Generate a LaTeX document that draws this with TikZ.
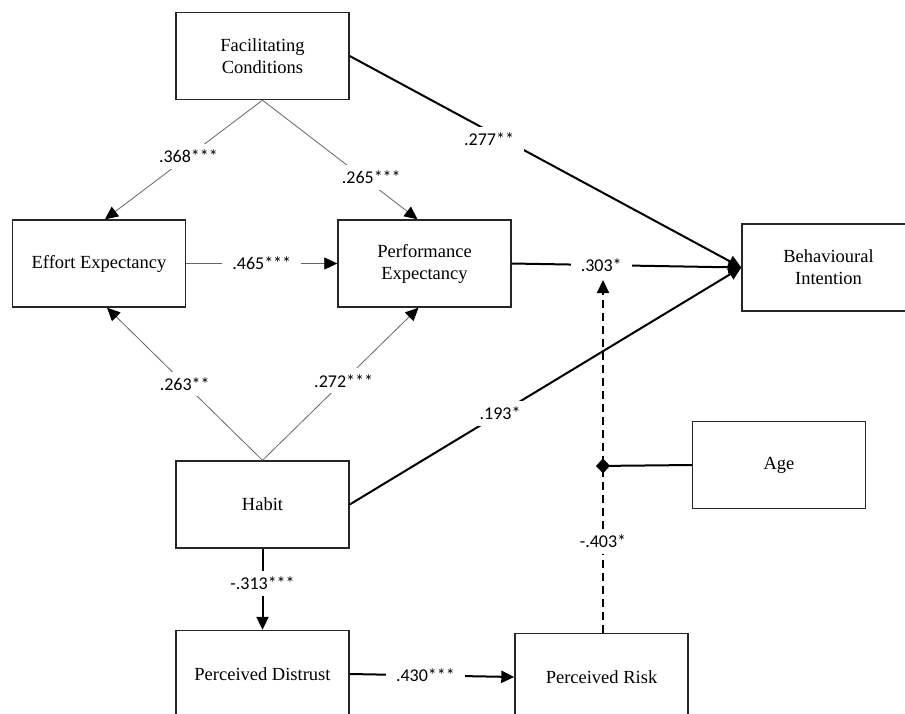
\documentclass[tikz,border=0pt]{standalone}
\usepackage{fontspec}
\setmainfont{Liberation Serif}
\newfontfamily\lblfam{Carlito}
\usetikzlibrary{arrows.meta, positioning}

\begin{document}
\begin{tikzpicture}[
            x=1pt, y=-1pt,
            >={Triangle[length=13pt,width=12pt]},
            box/.style={draw=black!85, line width=1.4pt, minimum width=173pt,
                minimum height=87pt, align=center, font=\fontsize{18.5}{22}\selectfont},
            lbl/.style={fill=white, inner xsep=10pt, inner ysep=6pt,
                font=\lblfam\fontsize{18}{20}\selectfont},
            thinpath/.style={draw=black!60, line width=0.8pt,
                -{Triangle[length=13pt,width=12pt,color=black]}},
            thickpath/.style={draw=black, line width=2pt, ->},
            dashedpath/.style={thickpath, dash pattern=on 8pt off 5pt}
        ]
        \useasboundingbox (0,0) rectangle (905,713);

        % Define constructs
        \node[box] (fc) at (262.5,56) {Facilitating\\Conditions};
        \node[box] (ee) at (99,263.5) {Effort Expectancy};
        \node[box] (pe) at (424.5,263.5) {Performance\\Expectancy};
        \node[box] (bi) at (828.5,267.5) {Behavioural\\Intention};
        \node[box] (hab) at (262.5,504.5) {Habit};
        \node[box] (age) at (779,465) {Age};
        \node[box] (pd) at (262.5,674) {Perceived Distrust};
        \node[box] (pr) at (601.5,677) {Perceived Risk};

        % Moderation points
        \coordinate (modtop) at (603,280);
        \coordinate (mod) at (603,466);

        % Draw paths
        \draw[thinpath] (fc.south) -- node[lbl, pos=.47]{.368***} ([xshift=6pt]ee.north);
        \draw[thinpath] (fc.south) -- node[lbl, pos=.65, xshift=8pt]{.265***} ([xshift=-7pt]pe.north);
        \draw[thinpath] (ee.east) -- node[lbl]{.465***} (pe.west);
        \draw[thinpath] (hab.north) -- node[lbl, pos=.5]{.263**} ([xshift=8pt]ee.south);
        \draw[thinpath] (hab.north) -- node[lbl, pos=.52]{.272***} ([xshift=-6pt]pe.south);

        \draw[thickpath] (fc.east) -- node[lbl, pos=.356, yshift=-8pt]{.277**} (bi.west);
        \draw[thickpath] (pe.east) -- node[lbl, pos=.39]{.303*} (bi.west);
        \draw[thickpath] (hab.east) -- node[lbl, pos=.384]{.193*} (bi.west);
        \draw[thickpath] (hab.south) -- node[lbl, pos=.43]{-.313***} (pd.north);
        \draw[thickpath] (pd.east) -- node[lbl, pos=.46]{.430***} (pr.west);

        \draw[dashedpath] (pr.north -| modtop) -- node[lbl, pos=.26]{-.403*} (modtop);
        \draw[line width=2pt, -{Diamond[length=14pt,width=15pt]}] (age.west) -- ([xshift=-7pt]mod);
\end{tikzpicture}
\end{document}
